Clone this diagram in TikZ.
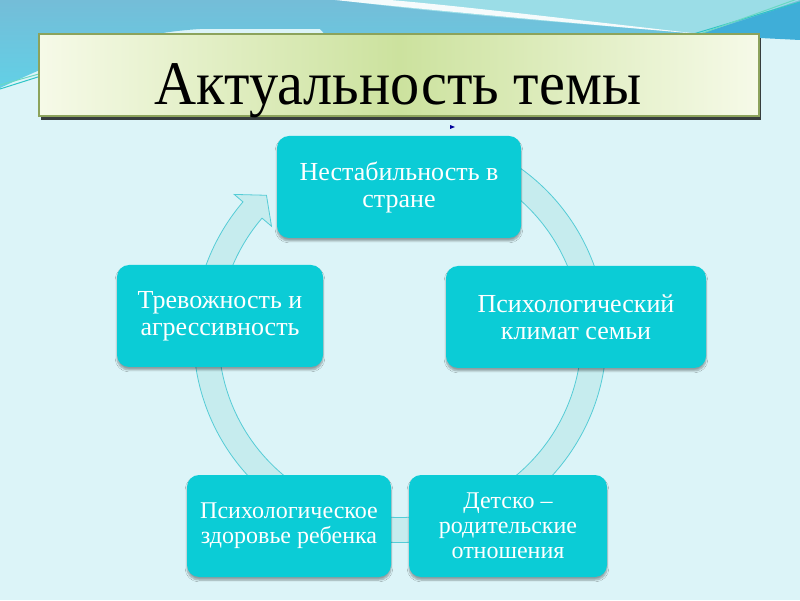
\documentclass[tikz,border=0pt]{standalone}
\usepackage{fontspec}
\setmainfont{Liberation Serif}
\usepackage{xcolor}
\usetikzlibrary{shadows,shadows.blur}
\definecolor{bgc}{HTML}{DCF4F8}
\definecolor{boxc}{HTML}{0BCCD6}
\definecolor{ringc}{HTML}{C6ECEE}
\definecolor{ringl}{HTML}{55CCD6}
\definecolor{skytop}{HTML}{74BDD8}
\definecolor{skybot}{HTML}{62D0E6}
\definecolor{skylight}{HTML}{9BDDE7}
\definecolor{wedgec}{HTML}{3FAED8}
\definecolor{linea}{HTML}{2EC4C6}
\definecolor{lineb}{HTML}{6AD8C2}
\definecolor{ttlside}{HTML}{F6FAE8}
\definecolor{ttlmid}{HTML}{CCE29E}
\definecolor{ttlline}{HTML}{8CA35C}
\tikzset{
cyclebox/.style={fill=boxc,rounded corners=12pt,text=white,align=center,inner sep=0pt,
  font=\fontsize{26}{27}\selectfont,
  blur shadow={shadow xshift=0pt,shadow yshift=-3pt,shadow blur steps=6,shadow opacity=35}},
smallbox/.style={cyclebox,font=\fontsize{24}{25}\selectfont},
titlebox/.style={draw=ttlline,line width=1.2pt,left color=ttlside,right color=ttlside,middle color=ttlmid,
  minimum width=720pt,minimum height=82pt,inner sep=0pt,
  drop shadow={shadow xshift=1.5pt,shadow yshift=-4pt,fill=black,opacity=0.75}}
}
\begin{document}
\begin{tikzpicture}[x=1pt,y=1pt,>=stealth]
\useasboundingbox (0,0) rectangle (800,600);
\fill[bgc](0,0)rectangle(800,600);
\shade[top color=skytop,bottom color=skybot](0,600)--(800,600)--(800,562)--(740,562)--(330,560)--(320,571)--(200,571)
  ..controls(120,566)and(60,540)..(0,512)--cycle;
\fill[skylight](340,600)..controls(450,585)and(600,575)..(700,566)--(800,600)--cycle;
\fill[wedgec](700,566)--(800,598)--(800,560)--(760,562)--cycle;
\fill[white,opacity=0.9](335,600)..controls(430,590)and(560,578)..(700,566)
  ..controls(570,581)and(450,595)..(390,600)--cycle;
\draw[linea,line width=1pt](690,565)--(800,598);
\draw[lineb,line width=1pt](700,566)--(800,602);
\draw[linea,line width=1pt](0,511)--(60,530);
\draw[lineb,line width=1pt](0,515)--(60,532);
\node[titlebox](ttl)at(399,525){};
\node[anchor=base,font=\fontsize{62}{70}\selectfont](ttltext)at(398,495){\scalebox{0.94}[1]{Актуальность темы}};
\fill[blue!60!black](450,471)--(455,473)--(450,475)--cycle;
\coordinate(ctr)at(400,264);
\filldraw[shift={(ctr)},fill=ringc,draw=ringl,line width=0.8pt](59:206.5)arc[start angle=59,end angle=-220.5,radius=206.5]
  --(-220.5:218)--(-226.5:194)--(-220.5:169)--(-220.5:181.5)arc[start angle=-220.5,end angle=59,radius=181.5]--cycle;
\node[cyclebox,minimum width=244pt,minimum height=102pt](nestab)at(399,413){Нестабильность в\\стране};
\node[cyclebox,minimum width=260pt,minimum height=102pt](klimat)at(576,283){Психологический\\климат семьи};
\node[cyclebox,minimum width=206pt,minimum height=102pt](trevog)at(220,284){Тревожность и\\агрессивность};
\node[smallbox,minimum width=204pt,minimum height=102pt](zdorov)at(289,74){Психологическое\\здоровье ребенка};
\node[smallbox,minimum width=198pt,minimum height=102pt](otnosh)at(508,74){Детско –\\родительские\\отношения};
\end{tikzpicture}
\end{document}
